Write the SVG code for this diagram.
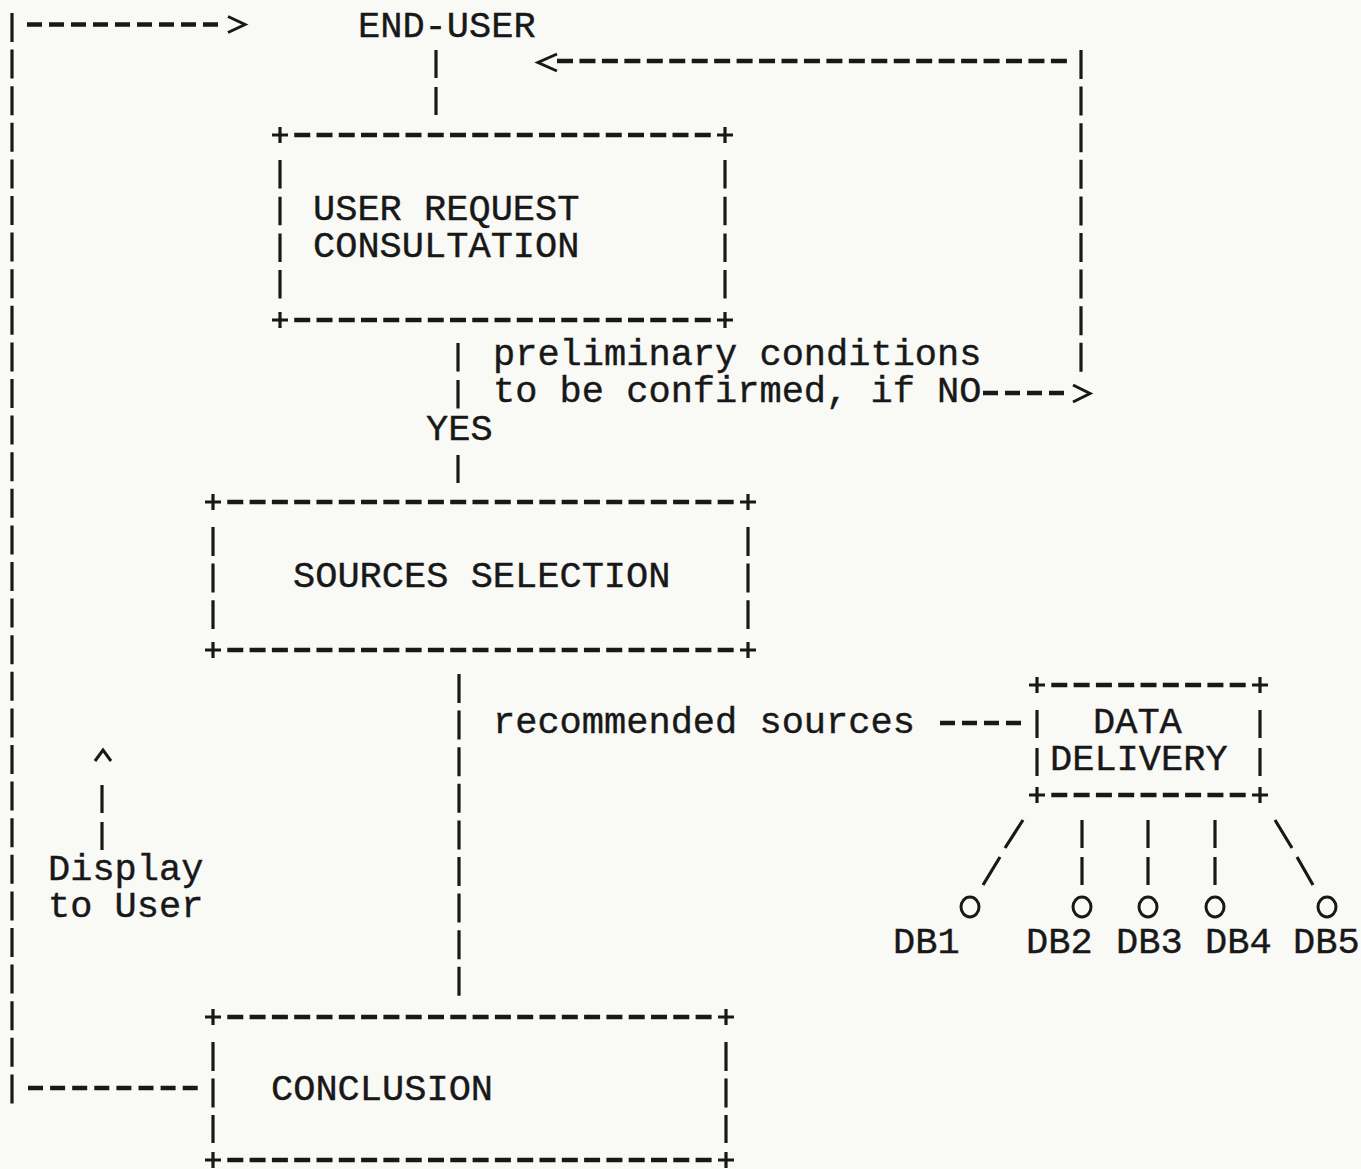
<svg xmlns="http://www.w3.org/2000/svg" width="1361" height="1169" viewBox="0 0 1361 1169">
<style>
  .t { font-family: "Liberation Mono", "Courier New", monospace; font-size: 37px; fill: #181818; stroke: #181818; stroke-width: 0.4; }
  .h { stroke: #181818; stroke-width: 4.5; fill: none; }
  .v { stroke: #181818; stroke-width: 3.2; fill: none; }
  .p { stroke: #181818; stroke-width: 3.2; fill: none; }
  .a { stroke: #181818; stroke-width: 3; fill: none; stroke-linejoin: miter; }
  .db { stroke: #181818; stroke-width: 3; fill: none; }
</style>
<rect x="0" y="0" width="1361" height="1169" fill="#f9f9f6"/>

<g id="end-user">
  <text class="t" x="358" y="37">END-USER</text>
</g>

<g id="user-request-consultation">
  <line class="h" x1="294.25" y1="135" x2="710.75" y2="135" stroke-dasharray="16 6.25"/>
  <line class="h" x1="294.25" y1="320" x2="710.75" y2="320" stroke-dasharray="16 6.25"/>
  <line class="v" x1="280" y1="160" x2="280" y2="299" stroke-dasharray="28.5 8.2"/>
  <line class="v" x1="725" y1="160" x2="725" y2="299" stroke-dasharray="28.5 8.2"/>
  <path class="p" d="M272 135h16M280 127v16M717 135h16M725 127v16M272 320h16M280 312v16M717 320h16M725 312v16"/>
  <text class="t" x="313" y="220">USER REQUEST</text>
  <text class="t" x="313" y="257">CONSULTATION</text>
</g>

<g id="sources-selection">
  <line class="h" x1="227.3" y1="502" x2="733.7" y2="502" stroke-dasharray="16 6.29"/>
  <line class="h" x1="227.3" y1="650" x2="733.7" y2="650" stroke-dasharray="16 6.29"/>
  <line class="v" x1="213" y1="527" x2="213" y2="629" stroke-dasharray="29 7.6"/>
  <line class="v" x1="748" y1="527" x2="748" y2="629" stroke-dasharray="29 7.6"/>
  <path class="p" d="M205 502h16M213 494v16M740 502h16M748 494v16M205 650h16M213 642v16M740 650h16M748 642v16"/>
  <text class="t" x="293" y="587">SOURCES SELECTION</text>
</g>

<g id="data-delivery">
  <line class="h" x1="1051.3" y1="685" x2="1245.7" y2="685" stroke-dasharray="16 6.3"/>
  <line class="h" x1="1051.3" y1="795" x2="1245.7" y2="795" stroke-dasharray="16 6.3"/>
  <line class="v" x1="1037" y1="710" x2="1037" y2="776" stroke-dasharray="28 10"/>
  <line class="v" x1="1260" y1="710" x2="1260" y2="776" stroke-dasharray="28 10"/>
  <path class="p" d="M1029 685h16M1037 677v16M1252 685h16M1260 677v16M1029 795h16M1037 787v16M1252 795h16M1260 787v16"/>
  <text class="t" x="1093" y="733">DATA</text>
  <text class="t" x="1050" y="770">DELIVERY</text>
</g>

<g id="conclusion">
  <line class="h" x1="227.3" y1="1017" x2="711.7" y2="1017" stroke-dasharray="16 6.3"/>
  <line class="h" x1="227.3" y1="1160" x2="711.7" y2="1160" stroke-dasharray="16 6.3"/>
  <line class="v" x1="213" y1="1042" x2="213" y2="1143" stroke-dasharray="29 7.5"/>
  <line class="v" x1="726" y1="1042" x2="726" y2="1143" stroke-dasharray="29 7.5"/>
  <path class="p" d="M205 1017h16M213 1009v16M718 1017h16M726 1009v16M205 1160h16M213 1152v16M718 1160h16M726 1152v16"/>
  <text class="t" x="271" y="1100">CONCLUSION</text>
</g>

<g id="db1"><ellipse class="db" cx="970" cy="907" rx="9" ry="10"/><text class="t" x="893" y="953">DB1</text></g>
<g id="db2"><ellipse class="db" cx="1082" cy="907" rx="9" ry="10"/><text class="t" x="1026" y="953">DB2</text></g>
<g id="db3"><ellipse class="db" cx="1148" cy="907" rx="9" ry="10"/><text class="t" x="1116" y="953">DB3</text></g>
<g id="db4"><ellipse class="db" cx="1215" cy="907" rx="9" ry="10"/><text class="t" x="1205" y="953">DB4</text></g>
<g id="db5"><ellipse class="db" cx="1327" cy="907" rx="9" ry="10"/><text class="t" x="1293" y="953">DB5</text></g>

<g id="connectors">
  <!-- left feedback loop: conclusion -> display to user -> end-user -->
  <line class="v" x1="12" y1="13" x2="12" y2="1104" stroke-dasharray="29 7.6"/>
  <line class="h" x1="27" y1="24.5" x2="218" y2="24.5" stroke-dasharray="15 7"/>
  <polyline class="a" points="228,16.5 245,24.5 228,32.5"/>
  <line class="h" x1="28" y1="1088" x2="198" y2="1088" stroke-dasharray="15 7.1"/>
  <polyline class="a" points="95,761 103,750 111,761"/>
  <line class="v" x1="102" y1="785" x2="102" y2="850" stroke-dasharray="28 9"/>
  <text class="t" x="48" y="880">Display</text>
  <text class="t" x="48" y="917">to User</text>

  <!-- end-user to user request -->
  <line class="v" x1="436" y1="50" x2="436" y2="115" stroke-dasharray="28 9"/>

  <!-- NO loop back to end-user -->
  <line class="h" x1="557" y1="61" x2="1067" y2="61" stroke-dasharray="16 6.45"/>
  <polyline class="a" points="557,54 538,62.5 557,71"/>
  <line class="v" x1="1081" y1="50" x2="1081" y2="372" stroke-dasharray="29 7.6"/>
  <line class="h" x1="983" y1="393" x2="1065" y2="393" stroke-dasharray="15 7"/>
  <polyline class="a" points="1073,385 1090,393.5 1073,402"/>

  <!-- user request to sources selection -->
  <line class="v" x1="458" y1="343" x2="458" y2="409" stroke-dasharray="28.5 8.5"/>
  <line class="v" x1="458" y1="455" x2="458" y2="483"/>
  <text class="t" x="493" y="365">preliminary conditions</text>
  <text class="t" x="493" y="402">to be confirmed, if NO</text>
  <text class="t" x="426" y="440">YES</text>

  <!-- sources selection to conclusion -->
  <line class="v" x1="459" y1="674" x2="459" y2="996" stroke-dasharray="29 7.6"/>

  <!-- recommended sources to data delivery -->
  <text class="t" x="493" y="733">recommended sources</text>
  <line class="h" x1="940" y1="723" x2="1022" y2="723" stroke-dasharray="15 7"/>

  <!-- data delivery fan-out to databases -->
  <path class="v" d="M1023 820L1005 848M1000 857L983 885"/>
  <path class="v" d="M1082 820V848M1082 857V885"/>
  <path class="v" d="M1148 820V848M1148 857V885"/>
  <path class="v" d="M1215 820V848M1215 857V885"/>
  <path class="v" d="M1275 820L1292 848M1297 857L1313 885"/>
</g>
</svg>
